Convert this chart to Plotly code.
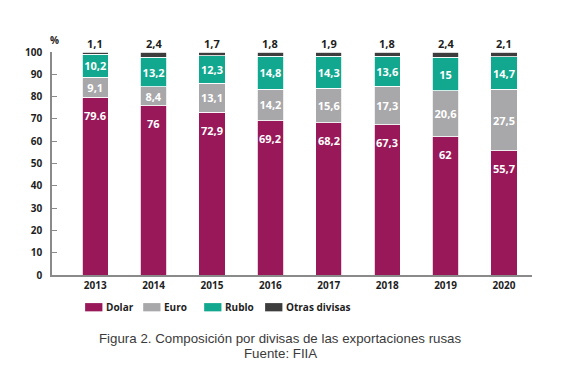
import plotly.graph_objects as go

years = ["2013", "2014", "2015", "2016", "2017", "2018", "2019", "2020"]
dolar = [79.6, 76, 72.9, 69.2, 68.2, 67.3, 62, 55.7]
euro = [9.1, 8.4, 13.1, 14.2, 15.6, 17.3, 20.6, 27.5]
rublo = [10.2, 13.2, 12.3, 14.8, 14.3, 13.6, 15, 14.7]
otras = [1.1, 2.4, 1.7, 1.8, 1.9, 1.8, 2.4, 2.1]

dolar_lbl = ["79.6", "76", "72,9", "69,2", "68,2", "67,3", "62", "55,7"]
euro_lbl = ["9,1", "8,4", "13,1", "14,2", "15,6", "17,3", "20,6", "27,5"]
rublo_lbl = ["10,2", "13,2", "12,3", "14,8", "14,3", "13,6", "15", "14,7"]
otras_lbl = ["1,1", "2,4", "1,7", "1,8", "1,9", "1,8", "2,4", "2,1"]

series_names = ["Dolar", "Euro", "Rublo", "Otras divisas"]
yticks = [0, 10, 20, 30, 40, 50, 60, 70, 80, 90, 100]

C_DOLAR = "#981859"
C_EURO = "#A8A8AB"
C_RUBLO = "#12A88F"
C_OTRAS = "#3D3D3D"
colors = [C_DOLAR, C_EURO, C_RUBLO, C_OTRAS]

FONT = "Open Sans"
DARK = "#1e1e1e"
lblfont = dict(family=FONT, size=11, color="white", weight="bold")
edge = dict(color="white", width=0.8)

fig = go.Figure()
fig.add_bar(x=years, y=dolar, name=series_names[0], marker=dict(color=C_DOLAR, line=edge))
fig.add_bar(x=years, y=euro, name=series_names[1], text=euro_lbl, textposition="inside",
            insidetextanchor="middle", textfont=lblfont, textangle=0, constraintext="none",
            marker=dict(color=C_EURO, line=edge))
fig.add_bar(x=years, y=rublo, name=series_names[2], text=rublo_lbl, textposition="inside",
            insidetextanchor="middle", textfont=lblfont, textangle=0, constraintext="none",
            marker=dict(color=C_RUBLO, line=edge))
fig.add_bar(x=years, y=otras, name=series_names[3], marker=dict(color=C_OTRAS, line=edge))

for i, (v, t) in enumerate(zip(dolar, dolar_lbl)):
    fig.add_annotation(x=i, y=v, text=t, showarrow=False, yshift=-18, yanchor="middle",
                       font=lblfont)

for i, (d, e, r, o, t) in enumerate(zip(dolar, euro, rublo, otras, otras_lbl)):
    total = min(round(d + e + r + o, 6), 100)
    fig.add_annotation(x=i, y=total, text=t, showarrow=False, yshift=9, yanchor="middle",
                       font=dict(family=FONT, size=11, color=DARK, weight="bold"))

fig.add_annotation(xref="paper", yref="paper", x=0.0, y=1.0, yshift=12, xanchor="center",
                   xshift=2, yanchor="middle", text="%", showarrow=False,
                   font=dict(family=FONT, size=10, color=DARK, weight="bold"))

# legend drawn as rectangular swatches (as in the reference)
leg_x0 = [0.069, 0.190, 0.317, 0.444]
sw_w = 0.036
for name, col, x0 in zip(series_names, colors, leg_x0):
    fig.add_shape(type="rect", xref="paper", yref="paper", x0=x0, x1=x0 + sw_w,
                  y0=-0.163, y1=-0.126, fillcolor=col, line=dict(width=0))
    fig.add_annotation(xref="paper", yref="paper", x=x0 + sw_w, y=-0.1445, xanchor="left",
                       yanchor="middle", xshift=2, text=name, showarrow=False,
                       font=dict(family=FONT, size=10, color=DARK, weight="bold"))

cap = dict(family="Liberation Sans, Arial, sans-serif", size=13.3, color="#3a3a3a")
fig.add_annotation(xref="paper", yref="paper", x=0.475, y=-0.285, xanchor="center", yanchor="middle",
                   text="Figura 2. Composición por divisas de las exportaciones rusas",
                   showarrow=False, font=cap)
fig.add_annotation(xref="paper", yref="paper", x=0.475, y=-0.352, xanchor="center", yanchor="middle",
                   text="Fuente: FIIA", showarrow=False, font=cap)

# page body has an 8px default margin -> shrink figure so the plot lands where the reference has it
fig.update_layout(
    barmode="stack",
    bargap=0.55,
    width=578, height=373,
    margin=dict(l=44, r=54, t=44, b=106),
    paper_bgcolor="white", plot_bgcolor="white",
    showlegend=False,
    font=dict(family=FONT),
)
fig.update_xaxes(type="category", range=[-0.74, 7.48], showline=True, linecolor="#8a8a8a",
                 linewidth=1.5, ticks="", showgrid=False,
                 tickfont=dict(family=FONT, size=10, color=DARK, weight="bold"))
fig.update_yaxes(range=[0, 100], tickvals=yticks, showline=True, linecolor="#8a8a8a", linewidth=1.5,
                 ticks="inside", ticklen=5, tickcolor="#8a8a8a", showgrid=False, zeroline=False,
                 ticklabelstandoff=6,
                 tickfont=dict(family=FONT, size=10, color=DARK, weight="bold"))

fig.write_html("out.html")
